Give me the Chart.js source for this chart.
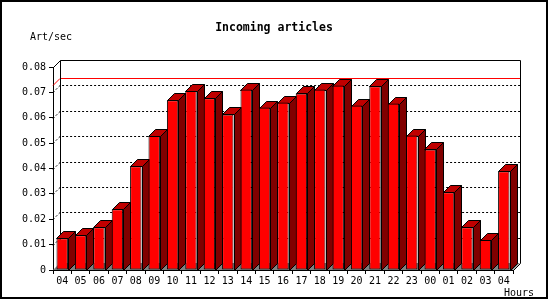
<!DOCTYPE html>
<html>
<head>
<meta charset="utf-8">
<script src="https://cdn.jsdelivr.net/npm/chart.js@4/dist/chart.umd.min.js"></script>
<style>
  html, body { margin: 0; padding: 0; background: #fff; }
  #wrap { width: 550px; height: 300px; position: relative; }
</style>
</head>
<body>
<div id="wrap"><canvas id="chart" width="550" height="300"></canvas></div>
<script>
// ─── Data ────────────────────────────────────────────────────────────────
const hours = ['04', '05', '06', '07', '08', '09', '10', '11', '12', '13', '14', '15',
    '16', '17', '18', '19', '20', '21', '22', '23', '00', '01', '02', '03', '04'];
const artPerSec = [0.0125, 0.0137, 0.0168, 0.0239, 0.0409, 0.0528, 0.0669, 0.0705,
    0.0677, 0.0613, 0.0711, 0.0640, 0.0660, 0.0696, 0.0711, 0.0727, 0.0648, 0.0724,
    0.0656, 0.0530, 0.0475, 0.0306, 0.0168, 0.0118, 0.0389];
const maxLine = 0.0728;
const yTicks = [0, 0.01, 0.02, 0.03, 0.04, 0.05, 0.06, 0.07, 0.08];

const FONT = '"DejaVu Sans Mono", "Liberation Mono", monospace';
const DEPTH = 7;

// ─── 3D back wall, grid, floor, bar tops and sides ──────────────────────
const depthPlugin = {
    id: 'depth',
    beforeDatasetsDraw(chart) {
        const { ctx, chartArea: a, scales: { y } } = chart;
        const d = DEPTH;
        ctx.save();

        // floor
        ctx.fillStyle = '#808080';
        ctx.beginPath();
        ctx.moveTo(a.left, a.bottom);
        ctx.lineTo(a.right, a.bottom);
        ctx.lineTo(a.right + d, a.bottom - d);
        ctx.lineTo(a.left + d, a.bottom - d);
        ctx.closePath();
        ctx.fill();

        // dotted grid on back wall
        ctx.strokeStyle = '#000';
        ctx.lineWidth = 1;
        ctx.setLineDash([2, 2]);
        yTicks.slice(1, -1).forEach(v => {
            const py = Math.round(y.getPixelForValue(v)) + 0.5;
            ctx.beginPath();
            ctx.moveTo(a.left, py);
            ctx.lineTo(a.left + d, py - d);
            ctx.lineTo(a.right + d, py - d);
            ctx.stroke();
        });
        ctx.setLineDash([]);

        // max line
        const my = Math.round(y.getPixelForValue(maxLine)) + 0.5;
        ctx.strokeStyle = '#ff0000';
        ctx.beginPath();
        ctx.moveTo(a.left, my);
        ctx.lineTo(a.left + d, my - d);
        ctx.lineTo(a.right + d, my - d);
        ctx.stroke();

        // back wall frame
        const top = Math.round(a.top) + 0.5;
        const bot = Math.round(a.bottom) + 0.5;
        const l = Math.round(a.left) + 0.5;
        const r = Math.round(a.right) + 0.5;
        ctx.strokeStyle = '#000';
        ctx.beginPath();
        ctx.moveTo(l, top);
        ctx.lineTo(l + d, top - d);
        ctx.lineTo(r + d, top - d);
        ctx.lineTo(r + d, bot - d);
        ctx.lineTo(r, bot);
        ctx.moveTo(l + d, top - d);
        ctx.lineTo(l + d, bot - d);
        ctx.stroke();

        // bar tops and sides
        const meta = chart.getDatasetMeta(0);
        meta.data.forEach(bar => {
            const x0 = Math.round(bar.x - bar.width / 2) + 0.5;
            const x1 = Math.round(bar.x + bar.width / 2) + 0.5;
            const t = Math.round(bar.y) + 0.5;
            const b = Math.round(bar.base) + 0.5;
            // side
            ctx.fillStyle = '#800000';
            ctx.beginPath();
            ctx.moveTo(x1, t);
            ctx.lineTo(x1 + d, t - d);
            ctx.lineTo(x1 + d, b - d);
            ctx.lineTo(x1, b);
            ctx.closePath();
            ctx.fill();
            ctx.stroke();
            // top
            ctx.fillStyle = '#c00000';
            ctx.beginPath();
            ctx.moveTo(x0, t);
            ctx.lineTo(x0 + d, t - d);
            ctx.lineTo(x1 + d, t - d);
            ctx.lineTo(x1, t);
            ctx.closePath();
            ctx.fill();
            ctx.stroke();
        });
        ctx.restore();
    },
    afterDraw(chart) {
        const { ctx } = chart;
        ctx.save();
        // outer frame
        ctx.strokeStyle = '#000';
        ctx.lineWidth = 2;
        ctx.strokeRect(1, 1, 546, 297);

        ctx.fillStyle = '#000';
        ctx.textBaseline = 'middle';
        ctx.font = 'bold 11.5px ' + FONT;
        ctx.textAlign = 'center';
        ctx.fillText('Incoming articles', 274, 28);
        ctx.font = '10px ' + FONT;
        ctx.textAlign = 'left';
        ctx.fillText('Art/sec', 30, 37);
        ctx.fillText('Hours', 504, 293);
        ctx.restore();
    }
};

new Chart(document.getElementById('chart'), {
    type: 'bar',
    data: {
        labels: hours,
        datasets: [{
            data: artPerSec,
            backgroundColor: '#ff0000',
            borderColor: '#000',
            borderWidth: 1,
            borderSkipped: false,
            barPercentage: 0.62,
            categoryPercentage: 1
        }]
    },
    options: {
        responsive: false,
        animation: false,
        layout: { padding: { top: 67, right: 37, left: 0, bottom: 0 } },
        plugins: {
            legend: { display: false },
            tooltip: { enabled: false },
            title: { display: false }
        },
        scales: {
            x: {
                afterFit: s => { s.height = 30; },
                grid: {
                    drawOnChartArea: false,
                    drawTicks: true,
                    tickLength: 4,
                    color: '#000'
                },
                border: { display: true, color: '#000' },
                ticks: {
                    color: '#000',
                    font: { family: FONT, size: 10 },
                    padding: 1,
                    maxRotation: 0,
                    autoSkip: false
                }
            },
            y: {
                min: 0,
                max: 0.08,
                afterFit: s => { s.width = 53; },
                afterBuildTicks: s => { s.ticks = yTicks.map(v => ({ value: v })); },
                grid: {
                    drawOnChartArea: false,
                    drawTicks: true,
                    tickLength: 4,
                    color: '#000'
                },
                border: { display: true, color: '#000' },
                ticks: {
                    color: '#000',
                    font: { family: FONT, size: 10 },
                    padding: 3,
                    callback: v => v === 0 ? '0' : v.toFixed(2)
                }
            }
        }
    },
    plugins: [depthPlugin]
});
</script>
</body>
</html>
